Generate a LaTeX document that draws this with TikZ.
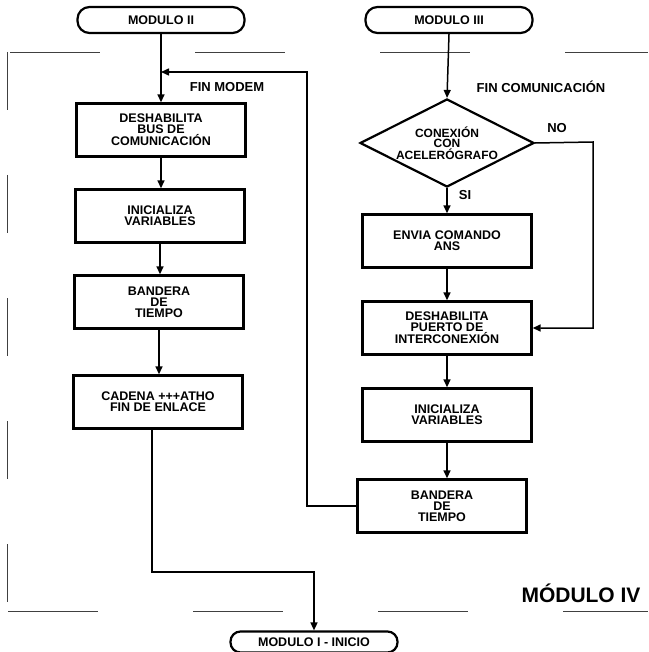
\documentclass[tikz,border=0pt]{standalone}
\usepackage{fontspec}
\setmainfont{Liberation Sans}
\usetikzlibrary{arrows.meta,shapes.geometric}

\begin{document}
\begin{tikzpicture}[x=1pt,y=-1pt,
		caja/.style={draw,line width=2.4pt,minimum width=169pt,minimum height=53pt,align=center,inner sep=2pt,font=\fontsize{12.5}{11}\selectfont\bfseries},
		term/.style={draw,line width=2.2pt,rounded corners=12pt,minimum width=167pt,minimum height=26pt,inner sep=1pt,font=\fontsize{12.5}{13}\selectfont\bfseries},
		decision/.style={draw,diamond,line width=2.2pt,minimum width=174pt,minimum height=88pt,aspect=2,align=center,inner sep=0pt,font=\fontsize{12}{10.5}\selectfont\bfseries},
		flecha/.style={line width=1.5pt,-{Triangle[length=8pt,width=7pt]}},
		marco/.style={line width=0.8pt,black!75},
		etiq/.style={font=\fontsize{13}{13}\selectfont\bfseries}]
	\useasboundingbox (0,0) rectangle (648,652);

	% marco punteado
	\draw[marco,dash pattern=on 90pt off 95pt] (10,52) -- (648,52);
	\draw[marco,dash pattern=on 90pt off 95pt] (8,611) -- (648,611);
	\draw[marco,dash pattern=on 58pt off 65pt] (7,52) -- (7,611);

	% modulo II
	\node[term] (m2) at (161,20) {MODULO II};
	\node[caja] (m2bus) at (161,130) {DESHABILITA\\BUS DE\\COMUNICACIÓN};
	\node[caja] (m2ini) at (160,216) {INICIALIZA\\VARIABLES};
	\node[caja] (m2band) at (159,302) {BANDERA\\DE\\TIEMPO};
	\node[caja] (m2cad) at (158,402) {CADENA +++ATHO\\FIN DE ENLACE};
	\coordinate (jm2) at (161,72);
	\node[etiq] (finmod) at (227,87) {FIN MODEM};

	% modulo III
	\node[term] (m3) at (449,20) {MODULO III};
	\node[decision] (cond) at (447,143) {CONEXIÓN\\CON\\ACELERÓGRAFO};
	\node[caja] (m3env) at (447,241) {ENVIA COMANDO\\ANS};
	\node[caja] (m3desh) at (447,328) {DESHABILITA\\PUERTO DE\\INTERCONEXIÓN};
	\node[caja] (m3ini) at (447,415) {INICIALIZA\\VARIABLES};
	\node[caja] (m3band) at (442,506) {BANDERA\\DE\\TIEMPO};
	\node[etiq] (fincom) at (541,87) {FIN COMUNICACIÓN};
	\node[etiq] (no) at (557,128) {NO};
	\node[etiq] (si) at (465,195) {SI};
	\coordinate (cno) at (593,142);
	\coordinate (lazo) at (307,72);

	% modulo I
	\node[term,minimum height=21pt,rounded corners=10pt] (m1) at (314,642) {MODULO I - INICIO};
	\coordinate (sal) at (314,572);

	\node[font=\fontsize{21}{21}\selectfont\bfseries] (titulo) at (581,593) {MÓDULO IV};

	\draw[flecha] (m2.south) -- (m2bus.north);
	\draw[flecha] (m2bus.south) -- (m2ini.north -| m2bus.south);
	\draw[flecha] (m2ini.south) -- (m2band.north -| m2ini.south);
	\draw[flecha] (m2band.south) -- (m2cad.north -| m2band.south);
	\draw[flecha] ([xshift=-6pt]m2cad.south) |- (sal) -- (m1.north);

	\draw[flecha] (m3.south) -- (cond.north);
	\draw[flecha] (cond.south) -- (m3env.north);
	\draw[flecha] (m3env.south) -- (m3desh.north);
	\draw[flecha] (m3desh.south) -- (m3ini.north);
	\draw[flecha] (m3ini.south) -- (m3band.north -| m3ini.south);
	\draw[flecha] (cond.east) -- (cno) |- (m3desh.east);
	\draw[flecha] (m3band.west) -| (lazo) -- (jm2);
\end{tikzpicture}
\end{document}
